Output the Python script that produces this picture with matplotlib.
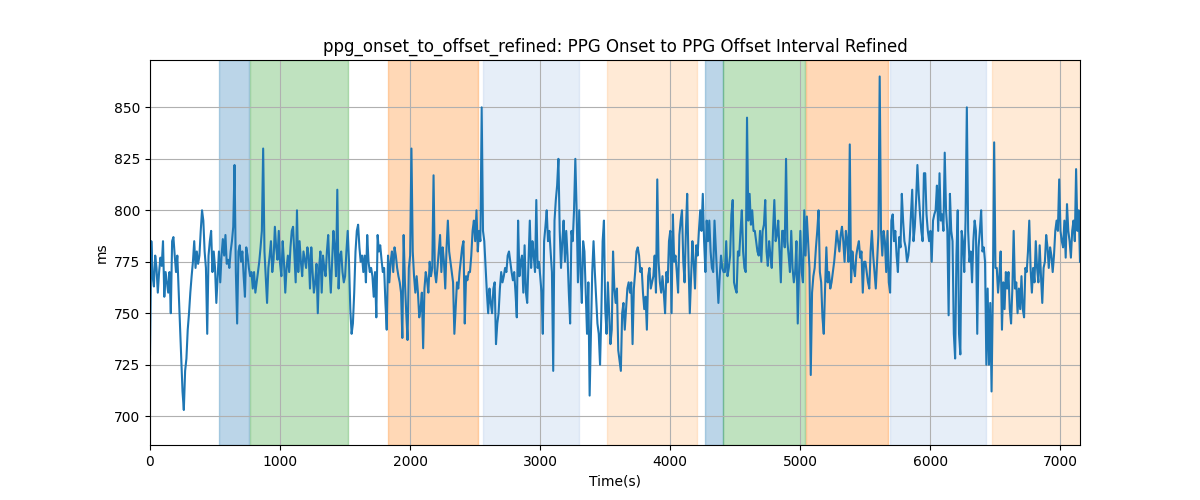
import numpy as np
import matplotlib
matplotlib.use("Agg")
import matplotlib.pyplot as plt

step = 10  # seconds between samples

# 0 - 1790 s
values_a = [
    730, 785, 768, 763, 778, 772, 760, 770, 777, 773,
    785, 758, 770, 765, 760, 770, 750, 785, 787, 778,
    770, 778, 762, 745, 728, 712, 703, 722, 728, 742,
    750, 760, 768, 775, 785, 772, 780, 774, 778, 790,
    800, 795, 780, 772, 740, 778, 785, 790, 770, 780,
    772, 755, 768, 780, 765, 778, 786, 778, 788, 774,
    776, 772, 780, 785, 792, 822, 770, 745, 780, 783,
    775, 780, 768, 758, 782, 778, 772, 768, 770, 762,
    770, 760, 765, 770, 775, 782, 790, 830, 780, 768,
    755, 772, 778, 785, 770, 776, 792, 782, 776, 790,
    774, 768, 785, 775, 760, 772, 778, 770, 782, 790,
    792, 778, 765, 800, 770, 785, 775, 768, 780, 776,
    772, 782, 778, 762, 782, 770, 760, 765, 774, 750,
    772, 780, 760, 778, 772, 768, 780, 788, 772, 760,
    775, 790, 782, 768, 810, 762, 778, 780, 770, 765,
    768, 780, 790, 775, 752, 740, 745, 760, 780, 790,
    793, 782, 775, 778, 770, 778, 765, 788, 775, 770,
    772, 768, 758, 770, 748, 788, 780, 783, 776, 770,
]
# 1800 - 3590 s
values_b = [
    772, 755, 742, 778, 765, 775, 780, 770, 782, 778,
    772, 768, 765, 760, 738, 788, 765, 750, 737, 772,
    778, 830, 780, 768, 760, 768, 760, 748, 752, 760,
    733, 762, 770, 766, 760, 775, 768, 772, 817, 770,
    765, 772, 780, 788, 770, 782, 775, 762, 782, 795,
    780, 775, 770, 765, 740, 752, 765, 762, 770, 776,
    782, 785, 745, 768, 766, 770, 770, 778, 790, 795,
    785, 800, 780, 790, 785, 850, 790, 785, 772, 760,
    750, 762, 755, 750, 762, 765, 735, 745, 750, 762,
    770, 765, 768, 772, 770, 778, 780, 775, 770, 766,
    770, 760, 748, 795, 768, 775, 778, 760, 783, 760,
    755, 775, 795, 772, 785, 778, 770, 805, 772, 775,
    768, 760, 740, 785, 792, 800, 785, 790, 780, 770,
    722, 795, 805, 812, 825, 790, 772, 785, 795, 775,
    790, 778, 760, 745, 790, 785, 800, 825, 800, 765,
    800, 770, 755, 785, 780, 760, 740, 765, 710, 740,
    770, 785, 770, 758, 745, 740, 725, 750, 785, 795,
    752, 740, 765, 750, 735, 742, 780, 762, 755, 762,
]
# 3600 - 5380 s
values_c = [
    732, 727, 722, 750, 755, 742, 752, 762, 765, 760,
    765, 735, 762, 770, 780, 782, 778, 770, 772, 760,
    752, 758, 742, 768, 772, 762, 765, 768, 778, 760,
    815, 775, 765, 760, 768, 760, 750, 770, 765, 785,
    790, 750, 798, 775, 778, 770, 760, 788, 795, 800,
    775, 765, 790, 808, 775, 750, 768, 785, 775, 762,
    783, 778, 790, 800, 790, 808, 785, 770, 795, 785,
    795, 780, 772, 770, 795, 782, 770, 755, 768, 778,
    772, 770, 770, 785, 768, 772, 778, 798, 805, 765,
    762, 760, 780, 778, 790, 800, 780, 772, 770, 845,
    795, 808, 793, 800, 790, 790, 785, 780, 778, 790,
    775, 790, 793, 805, 780, 773, 785, 778, 772, 790,
    805, 785, 788, 795, 780, 765, 790, 790, 782, 825,
    785, 778, 770, 790, 772, 765, 770, 785, 745, 770,
    790, 770, 765, 800, 778, 797, 785, 772, 720, 760,
    768, 772, 782, 790, 800, 770, 765, 748, 740, 762,
    782, 765, 770, 762, 765, 770, 775, 782, 790, 785,
    780, 788, 792, 785, 775, 790, 785, 775, 832,
]
# 5390 - 7150 s
values_d = [
    765, 780, 772, 768, 778, 782, 785, 777, 780, 760,
    775, 775, 770, 765, 762, 780, 790, 778, 770, 762,
    775, 788, 865, 790, 778, 790, 785, 770, 790, 765,
    760, 795, 798, 785, 790, 778, 770, 787, 782, 808,
    795, 785, 782, 775, 778, 785, 798, 810, 785, 792,
    805, 822, 808, 798, 790, 785, 818, 818, 798, 790,
    785, 790, 775, 795, 798, 800, 812, 790, 818, 795,
    798, 790, 828, 800, 790, 749, 808, 790, 785, 740,
    728, 778, 800, 740, 730, 790, 785, 770, 795, 850,
    790, 775, 780, 765, 785, 795, 790, 740, 782, 790,
    800, 780, 782, 775, 725, 762, 725, 755, 712, 760,
    833, 772, 772, 760, 768, 780, 742, 765, 752, 770,
    762, 770, 752, 745, 762, 790, 762, 765, 750, 762,
    752, 768, 752, 748, 772, 770, 780, 795, 772, 760,
    772, 765, 785, 772, 765, 783, 768, 755, 772, 775,
    788, 782, 772, 782, 778, 770, 778, 790, 795, 790,
    815, 790, 785, 782, 795, 777, 803, 790, 785, 777,
    790, 795, 785, 820, 790, 800, 775,
]
values = values_a + values_b + values_c + values_d
time_s = np.arange(len(values)) * step

span_starts = [531, 769, 1831, 2562, 3515, 4269, 4408, 5046, 5692, 6477]
span_ends = [762, 1523, 2523, 3300, 4208, 4408, 5038, 5677, 6431, 7160]
span_colors = ['tab:blue', 'tab:green', 'tab:orange', '#aec7e8', '#ffbb78',
               'tab:blue', 'tab:green', 'tab:orange', '#aec7e8', '#ffbb78']

fig, ax = plt.subplots(figsize=(12, 5), dpi=100)
for s, e, c in zip(span_starts, span_ends, span_colors):
    ax.axvspan(s, e, color=c, alpha=0.3)
ax.plot(time_s, values, color='tab:blue', linewidth=1.5)
ax.set_xlim(0, time_s[-1])
ax.set_ylim(686, 873)
ax.set_yticks([700, 725, 750, 775, 800, 825, 850])
ax.grid(True)
ax.set_title('ppg_onset_to_offset_refined: PPG Onset to PPG Offset Interval Refined')
ax.set_xlabel('Time(s)')
ax.set_ylabel('ms')
fig.savefig('out.png')
